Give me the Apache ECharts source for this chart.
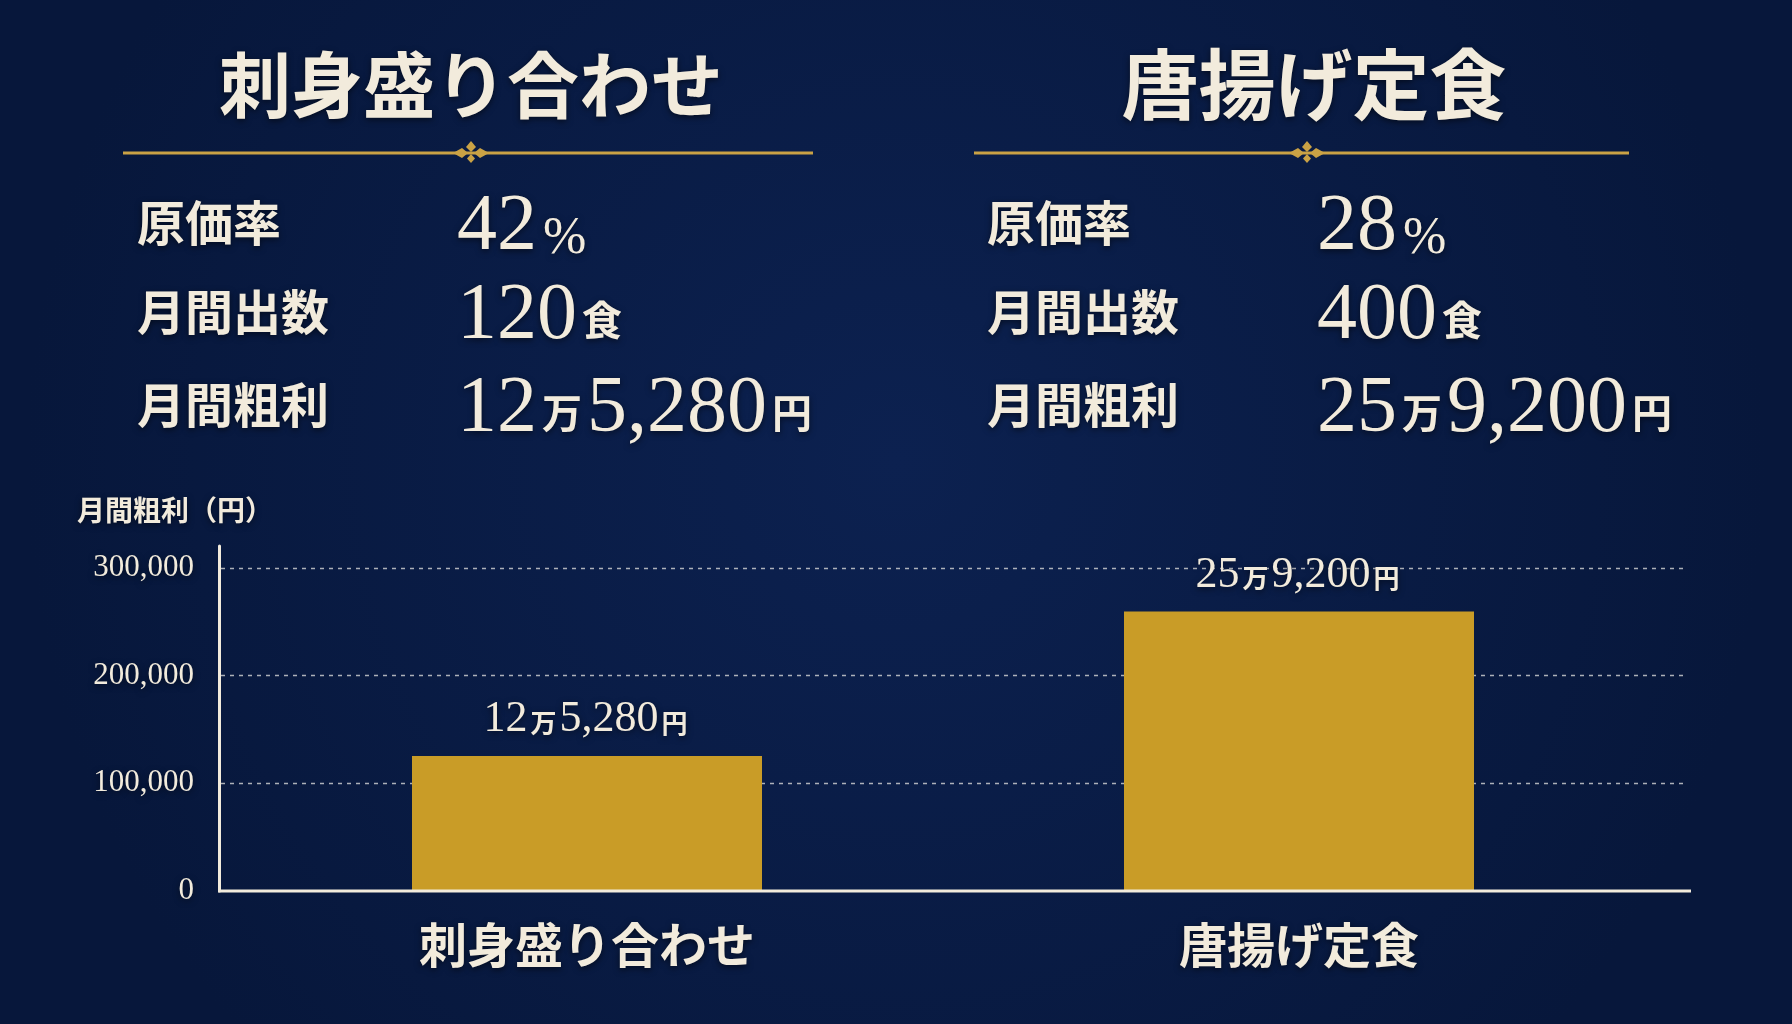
<!doctype html>
<html>
<head>
<meta charset="utf-8">
<title>月間粗利</title>
<style>
	html, body { margin: 0; padding: 0; background: #0a1c44; }
	#main { width: 1792px; height: 1024px; }
</style>
<script src="https://cdn.jsdelivr.net/npm/echarts@6/dist/echarts.min.js"></script>
</head>
<body>
<div id="main"></div>
<script>
	// データ
	var items = ['刺身盛り合わせ', '唐揚げ定食'];
	var costRates = [42, 28];            // 原価率 %
	var monthlyCounts = [120, 400];      // 月間出数 食
	var grossProfits = [125280, 259200]; // 月間粗利 円
	var yTicks = [0, 100000, 200000, 300000];
	var rowLabels = ['原価率', '月間出数', '月間粗利'];

	var cream = '#f2ebdc';
	var gold = '#caa245';
	var barGold = '#c99c27';
	var jp = '"Noto Sans CJK JP", sans-serif';
	var num = '"Liberation Serif", "DejaVu Serif", serif';

	// 12万5,280 のように分けて rich 文字列にする
	function manText(v, big, small) {
		var man = Math.floor(v / 10000);
		var rest = (v % 10000).toLocaleString('en-US');
		return '{' + big + '|' + man + '}{' + small + '|万}{' + big + '|' + rest + '}{' + small + '|円}';
	}

	var shadow = { textShadowColor: 'rgba(0,0,0,0.55)', textShadowBlur: 6, textShadowOffsetY: 2 };

	function richPart(size, family, weight) {
		return Object.assign({ fontSize: size, fontFamily: family, fontWeight: weight, fill: cream, color: cream, verticalAlign: 'bottom', lineHeight: 80 }, shadow);
	}

	// 上部の表（左右2ブロック）
	var blocks = [
		{ cx: 471, tx: 471, tsize: 72, x1: 123, x2: 813, labelX: 137, valueX: 457 },
		{ cx: 1307, tx: 1314, tsize: 77, x1: 974, x2: 1629, labelX: 987, valueX: 1317 }
	];
	var rowY = [223, 312, 405];
	var graphics = [];

	blocks.forEach(function (b, i) {
		graphics.push({
			type: 'text', x: b.tx, y: 85,
			style: Object.assign({ text: items[i], fill: cream, fontSize: b.tsize, fontWeight: 'bold', fontFamily: jp, align: 'center', verticalAlign: 'middle' }, shadow)
		});
		// 金の線と飾り
		graphics.push({ type: 'line', shape: { x1: b.x1, y1: 153, x2: b.x2, y2: 153 }, style: { stroke: gold, lineWidth: 3 } });
		graphics.push({ type: 'polygon', shape: { points: [[b.cx - 18, 153], [b.cx - 9, 148], [b.cx - 3, 153], [b.cx - 9, 158]] }, style: { fill: gold } });
		graphics.push({ type: 'polygon', shape: { points: [[b.cx + 18, 153], [b.cx + 9, 148], [b.cx + 3, 153], [b.cx + 9, 158]] }, style: { fill: gold } });
		graphics.push({ type: 'polygon', shape: { points: [[b.cx, 141], [b.cx + 5, 147], [b.cx, 152], [b.cx - 5, 147]] }, style: { fill: gold } });
		graphics.push({ type: 'polygon', shape: { points: [[b.cx, 154], [b.cx + 4, 158.5], [b.cx, 163], [b.cx - 4, 158.5]] }, style: { fill: gold } });

		rowLabels.forEach(function (lab, r) {
			graphics.push({
				type: 'text', x: b.labelX, y: rowY[r],
				style: Object.assign({ text: lab, fill: cream, fontSize: 48, fontWeight: 'bold', fontFamily: jp, align: 'left', verticalAlign: 'middle' }, shadow)
			});
		});

		var values = [
			'{n|' + costRates[i] + '}{s|%}',
			'{n|' + monthlyCounts[i] + '}{u|食}',
			manText(grossProfits[i], 'n', 'u')
		];
		values.forEach(function (t, r) {
			graphics.push({
				type: 'text', x: b.valueX, y: rowY[r] + 45,
				style: {
					text: t, align: 'left', verticalAlign: 'bottom',
					rich: {
						n: richPart(80, num, 'normal'),
						s: Object.assign(richPart(52, num, 'normal'), { padding: [0, 0, 3, 6] }),
						u: Object.assign(richPart(40, jp, 'bold'), { padding: [0, 5, 17, 5] })
					}
				}
			});
		});
	});

	// 軸名
	graphics.push({
		type: 'text', x: 77, y: 510,
		style: Object.assign({ text: '月間粗利（円）', fill: cream, fontSize: 28, fontWeight: 'bold', fontFamily: jp, align: 'left', verticalAlign: 'middle' }, shadow)
	});

	var myChart = echarts.init(document.getElementById('main'));
	var option = {
		backgroundColor: {
			type: 'radial', x: 0.5, y: 0.45, r: 0.85,
			colorStops: [{ offset: 0, color: '#0c2150' }, { offset: 1, color: '#07173b' }]
		},
		grid: { left: 231, right: 137, top: 546, bottom: 133 },
		xAxis: {
			type: 'category',
			data: items,
			axisLine: { show: false },
			axisTick: { show: false },
			axisLabel: Object.assign({ color: cream, fontSize: 48, fontWeight: 'bold', fontFamily: jp, margin: 30 }, shadow)
		},
		yAxis: {
			type: 'value',
			min: 0, max: 320000, interval: 100000,
			offset: 12,
			axisLine: { show: true, lineStyle: { color: cream, width: 3 } },
			axisTick: { show: false },
			splitLine: { show: false },
			axisLabel: Object.assign({
				color: cream, fontSize: 31, fontFamily: num, margin: 25, showMaxLabel: false,
				formatter: function (v) { return v % 100000 === 0 ? v.toLocaleString('en-US') : ''; }
			}, shadow)
		},
		series: [{
			type: 'bar',
			data: grossProfits,
			barWidth: 350,
			z: 2,
			itemStyle: { color: barGold },
			label: {
				show: true, position: 'top', distance: 14,
				formatter: function (p) { return manText(p.value, 'n', 'u'); },
				rich: {
					n: Object.assign({ color: cream, fontSize: 44, fontFamily: num, verticalAlign: 'bottom', lineHeight: 46 }, shadow),
					u: Object.assign({ color: cream, fontSize: 26, fontFamily: jp, fontWeight: 'bold', verticalAlign: 'bottom', lineHeight: 46, padding: [0, 3, 6, 3] }, shadow)
				}
			}
		}]
	};
	myChart.setOption(option);

	// 目盛りの点線と横軸の線（軸のスケールから位置を取る）
	var axisY = myChart.convertToPixel({ yAxisIndex: 0 }, 0);
	yTicks.forEach(function (v) {
		if (v === 0) return;
		var y = Math.round(myChart.convertToPixel({ yAxisIndex: 0 }, v)) + 0.5;
		graphics.push({
			type: 'line', z: 0, silent: true,
			shape: { x1: 221, y1: y, x2: 1686, y2: y },
			style: { stroke: 'rgba(215,215,215,0.8)', lineWidth: 1.5, lineDash: [4, 5] }
		});
	});
	graphics.push({
		type: 'line', z: 10, silent: true,
		shape: { x1: 218, y1: axisY, x2: 1691, y2: axisY },
		style: { stroke: cream, lineWidth: 3 }
	});
	myChart.setOption({ graphic: graphics });
</script>
</body>
</html>
